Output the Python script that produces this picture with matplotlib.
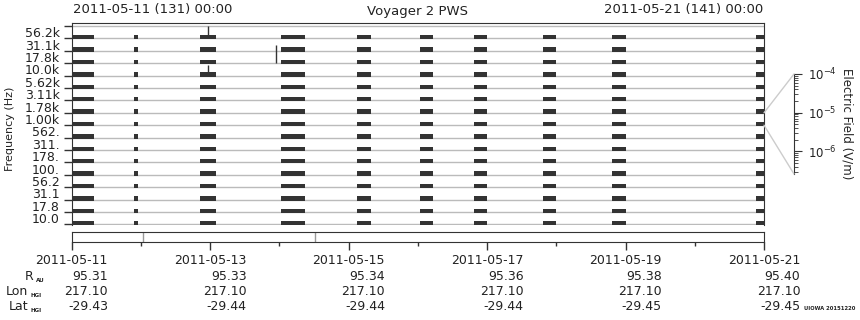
import numpy as np
import matplotlib
matplotlib.use('Agg')
import matplotlib.pyplot as plt
from matplotlib.patches import ConnectionPatch
from matplotlib.ticker import NullFormatter

# frequency channels, lowest first
freq_labels = ['10.0', '17.8', '31.1', '56.2', '100.', '178.', '311.', '562.',
               '1.00k', '1.78k', '3.11k', '5.62k', '10.0k', '17.8k', '31.1k', '56.2k']

# data intervals (days after 2011-05-11 00:00), seen in every channel
seg_start = [0.000, 0.900, 1.853, 2.948, 3.023, 4.126, 5.030, 5.810, 6.808, 7.800, 9.885]
seg_end   = [0.322, 0.960, 2.084, 2.958, 3.370, 4.323, 5.220, 5.998, 7.000, 8.006, 10.000]

# isolated spikes: day, channel, top of spike (channel units)
spike_day  = [1.969, 1.969, 2.951]
spike_chan = [15, 12, 13]
spike_top  = [16.0, 12.85, 14.47]

# grey marks in the lower strip
gap_days = [1.034, 3.519]

# trajectory table
date_days   = [0, 2, 4, 6, 8, 10]
date_labels = ['2011-05-11', '2011-05-13', '2011-05-15', '2011-05-17', '2011-05-19', '2011-05-21']
r_au    = ['95.31', '95.33', '95.34', '95.36', '95.38', '95.40']
lon_hgi = ['217.10', '217.10', '217.10', '217.10', '217.10', '217.10']
lat_hgi = ['-29.43', '-29.44', '-29.44', '-29.44', '-29.45', '-29.45']

W, H = 860, 320
def fx(x): return x / W
def fy(y): return 1 - y / H

txt = '#222222'
dark = '#333333'
plt.rcParams['text.color'] = txt
plt.rcParams['xtick.color'] = dark
plt.rcParams['ytick.color'] = dark
plt.rcParams['xtick.labelcolor'] = txt
plt.rcParams['ytick.labelcolor'] = txt

fig = plt.figure(figsize=(W / 100, H / 100), dpi=100)

# main spectrum panel
ax = fig.add_axes([fx(71.7), fy(225.4), fx(764) - fx(71.7), 202.1 / H])
ax.hlines(np.arange(17), 0, 10, colors='#bbbbbb', lw=1, zorder=1)
bars = [(s, e - s) for s, e in zip(seg_start, seg_end)]
for i in range(len(freq_labels)):
    ax.broken_barh(bars, (i - 0.08, 0.35), facecolors=dark, lw=0, zorder=2)
ax.vlines(spike_day, spike_chan, spike_top, colors=dark, lw=1, zorder=3)
ax.set_xlim(0, 10)
ax.set_ylim(-0.08, 16.22)
ax.set_xticks([])
ax.set_yticks(np.arange(17))
ax.set_yticklabels([])
ax.set_yticks(np.arange(16) + 0.5, minor=True)
ax.set_yticklabels(freq_labels, minor=True)
ax.tick_params(axis='y', which='major', length=6, width=1)
ax.tick_params(axis='y', which='minor', length=0, labelsize=9, pad=8.4)
ax.spines['bottom'].set_visible(False)
for s in ['left', 'top', 'right']:
    ax.spines[s].set_color(dark)

# colour scale axis
cax = fig.add_axes([fx(794) - 0.001, fy(174), 0.001, 100 / H])
cax.set_yscale('log')
cax.set_ylim(2.6e-7, 1e-4)
cax.patch.set_visible(False)
for s in ['left', 'top', 'bottom']:
    cax.spines[s].set_visible(False)
cax.spines['right'].set_color(dark)
cax.set_xticks([])
cax.yaxis.tick_right()
cax.yaxis.set_minor_formatter(NullFormatter())
cax.tick_params(axis='y', which='major', length=6, labelsize=8.5, pad=4)
cax.tick_params(axis='y', which='minor', length=3)
fig.text(fx(847), fy(124), 'Electric Field (V/m)', rotation=270,
         ha='center', va='center', fontsize=8.5)

for ya, yb in [(9, 1), (8, 0)]:
    con = ConnectionPatch(xyA=(10, ya), coordsA=ax.transData,
                          xyB=(1, yb), coordsB=cax.transAxes,
                          color='#cccccc', lw=1)
    fig.add_artist(con)

# lower time strip
bx = fig.add_axes([fx(71.7), fy(242.3), fx(764) - fx(71.7), 10.6 / H])
bx.set_xlim(0, 10)
bx.set_ylim(0, 1)
bx.set_yticks([])
bx.set_xticks(date_days)
bx.set_xticklabels([])
bx.set_xticks([1, 3, 5, 7, 9], minor=True)
bx.tick_params(axis='x', which='major', length=6, width=1)
bx.tick_params(axis='x', which='minor', length=3, width=1)
for s in bx.spines.values():
    s.set_color(dark)
for d in gap_days:
    bx.axvline(d, color='#999999', lw=1)

# date centred on the tick, values right-aligned under the date's right edge
half = 36.3
for d, lab, r, lo, la in zip(date_days, date_labels, r_au, lon_hgi, lat_hgi):
    bx.annotate(lab, xy=(d, 0), xycoords=('data', 'axes fraction'),
                xytext=(0, -18.2), textcoords='offset pixels',
                ha='center', va='center', fontsize=9)
    for val, dy in [(r, -34.2), (lo, -49.2), (la, -64.2)]:
        bx.annotate(val, xy=(d, 0), xycoords=('data', 'axes fraction'),
                    xytext=(half, dy), textcoords='offset pixels',
                    ha='right', va='center', fontsize=9)

# row names
for name, sub, xr, y in [('R', 'AU', 33, 276.5), ('Lon', 'HGI', 28, 291.5), ('Lat', 'HGI', 28, 306.5)]:
    fig.text(fx(xr), fy(y), name, ha='right', va='center', fontsize=9)
    fig.text(fx(xr + 2.5), fy(y + 4), sub, ha='left', va='center', fontsize=4, weight='bold')

# header
fig.text(fx(72.7), fy(9), '2011-05-11 (131) 00:00', ha='left', va='center', fontsize=9.5)
fig.text(fx(763), fy(9), '2011-05-21 (141) 00:00', ha='right', va='center', fontsize=9.5)
fig.text(fx(417.9), fy(11), 'Voyager 2 PWS', ha='center', va='center', fontsize=9.5)
fig.text(fx(10), fy(129), 'Frequency (Hz)', rotation=90, ha='center', va='center', fontsize=8)
fig.text(fx(804), fy(309), 'UIOWA 20151220', ha='left', va='center', fontsize=3.8, weight='bold')

fig.savefig('out.png', dpi=100)
